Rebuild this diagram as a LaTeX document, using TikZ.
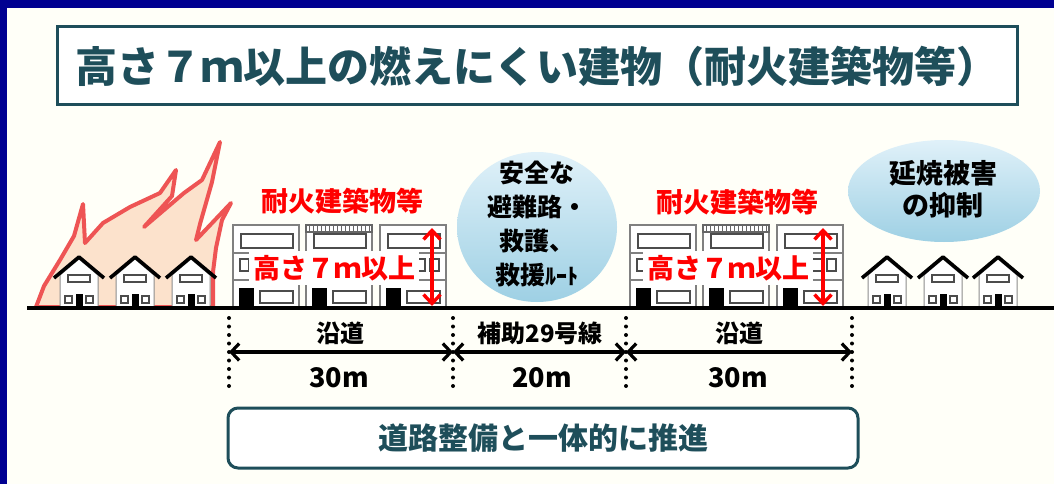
\documentclass[tikz,border=0pt]{standalone}
\usepackage{fontspec}
\setmainfont{Noto Sans CJK JP}
\usetikzlibrary{shapes.geometric,arrows.meta}

\definecolor{navy}{RGB}{0,0,145}
\definecolor{paper}{RGB}{255,255,248}
\definecolor{darkteal}{RGB}{30,78,90}
\definecolor{flamefill}{RGB}{252,226,204}
\definecolor{flameline}{RGB}{238,84,84}
\definecolor{bubtop}{RGB}{224,241,249}
\definecolor{bubbot}{RGB}{158,208,228}

\tikzset{
  win/.style={draw=black!70,line width=1.3},
  house/.pic={
    \filldraw[fill=white,draw=black!45,line width=1] (-19,0) -- (-19,-33) -- (0,-49) -- (19,-33) -- (19,0) -- cycle;
    \draw[line width=3.6,line join=round] (-25,-30) -- (0,-51) -- (25,-30);
    \draw[win] (-11,-33) rectangle (11,-26);
    \draw[win] (-14,-12) rectangle (-7,-5) (7,-12) rectangle (14,-5);
    \fill (-3.5,0) rectangle (3.5,-14);
  },
  tower/.pic={
    \filldraw[fill=white,draw=black!50,line width=1.8] (0,0) rectangle (66,-83);
    \draw[black!50,line width=1.2] (0,-28) -- (66,-28) (0,-55) -- (66,-55);
    \draw[win] (8,-74) rectangle (60,-60);
    \draw[win] (7,-49) rectangle (16,-37) (21,-49) rectangle (45,-37) (50,-49) rectangle (59,-37);
    \fill (6,0) rectangle (21,-20);
    \draw[win] (27,-17) rectangle (60,-5);
  },
  rail/.pic={
    \filldraw[fill=white,draw=black!60,line width=1.2] (0,-83) rectangle (66,-76);
    \foreach \i in {3,7,...,63}
      \draw[black!60,line width=0.9] (\i,-83) -- (\i,-76);
  },
  redlab/.style={text=red,font=\bfseries\fontsize{27}{27}\selectfont},
  lab/.style={font=\bfseries\fontsize{24}{24}\selectfont},
  len/.style={font=\bfseries\fontsize{27}{27}\selectfont},
  bubble/.style={ellipse,top color=bubtop,bottom color=bubbot,inner sep=0},
  dots/.style={line width=4,line cap=round,dash pattern=on 0pt off 8.5pt},
  dim/.style={line width=3.2,{Straight Barb[length=8pt,width=17pt]}-{Straight Barb[length=8pt,width=17pt]}},
  hgt/.style={red,line width=3.4,{Straight Barb[length=9pt,width=17pt]}-{Straight Barb[length=9pt,width=17pt]}}
}

\begin{document}
\begin{tikzpicture}[x=1pt,y=-1pt]
  \useasboundingbox (0,0) rectangle (1054,484);
  \fill[paper] (0,0) rectangle (1054,484);
  \fill[navy] (0,0) rectangle (1054,8);
  \fill[navy] (0,0) rectangle (7,484);

  \node[draw=darkteal,line width=3,fill=white,minimum width=960,minimum height=78,
        text=darkteal,font=\bfseries\fontsize{42}{42}\selectfont] (title) at (537,66)
        {高さ７ｍ以上の燃えにくい建物（耐火建築物等）};

  % fire behind the wooden houses
  \filldraw[fill=flamefill,draw=flameline,line width=4,line join=round]
    (36,307) -- (44,286) -- (60,260) -- (74,236) -- (83,204) -- (85,243) -- (103,223)
    -- (130,207) -- (160,193) -- (176,170) -- (172,196) -- (144,227) -- (184,193)
    -- (202,180) -- (220,142) -- (212,182) -- (200,224) -- (196,240) -- (231,203)
    -- (222,220) -- (216,248) -- (213,272) -- (213,307) -- cycle;

  \foreach \x in {79,135,191,887,943,998}
    \pic at (\x,308) {house};

  \foreach \x in {233,306,380,630,703,777}
    \pic at (\x,308) {tower};
  \pic at (306,308) {rail};
  \pic at (703,308) {rail};

  \draw[line width=3.5] (27,308) -- (1054,308);

  \coordinate (h1) at (432,228);
  \coordinate (h2) at (432,306);
  \coordinate (h3) at (823,228);
  \coordinate (h4) at (823,306);
  \draw[hgt] (h1) -- (h2);
  \draw[hgt] (h3) -- (h4);

  \node[redlab] (f1) at (342,201) {耐火建築物等};
  \node[redlab] (f2) at (737,202) {耐火建築物等};
  \node[redlab,fill=white,minimum width=170,minimum height=34] (k1) at (334,268) {高さ７ｍ以上};
  \node[redlab,fill=white,minimum width=170,minimum height=34] (k2) at (728,268) {高さ７ｍ以上};

  \node[bubble,minimum width=160,minimum height=150] (s) at (537,227) {};
  \node[align=center,font=\bfseries\fontsize{25}{34}\selectfont] (st) at (537,224)
    {安全な\\避難路・\\救護、\\救援{\fontsize{22}{22}\selectfont ﾙｰﾄ}};
  \node[bubble,minimum width=192,minimum height=102] (p) at (944,191) {};
  \node[align=center,font=\bfseries\fontsize{27}{32}\selectfont] (pt) at (943,189)
    {延焼被害\\の抑制};

  % road widths
  \foreach \n/\x in {1/229,2/453,3/626,4/852} {
    \coordinate (t\n) at (\x,318);
    \coordinate (m\n) at (\x,352);
    \coordinate (u\n) at (\x,393);
    \draw[dots] (t\n) -- (u\n);
  }
  \draw[dim] (m1) -- (m2);
  \draw[dim] (m2) -- (m3);
  \draw[dim] (m3) -- (m4);

  \node[lab] (r1) at (340,333) {沿道};
  \node[lab] (r2) at (540,333) {補助29号線};
  \node[lab] (r3) at (739,333) {沿道};
  \node[len] (w1) at (339,378) {30m};
  \node[len] (w2) at (542,378) {20m};
  \node[len] (w3) at (738,378) {30m};

  \node[draw=darkteal,line width=3,rounded corners=10,fill=white,minimum width=630,minimum height=60,
        text=darkteal,font=\bfseries\fontsize{30}{30}\selectfont] (goal) at (543,438)
        {道路整備と一体的に推進};
\end{tikzpicture}
\end{document}
